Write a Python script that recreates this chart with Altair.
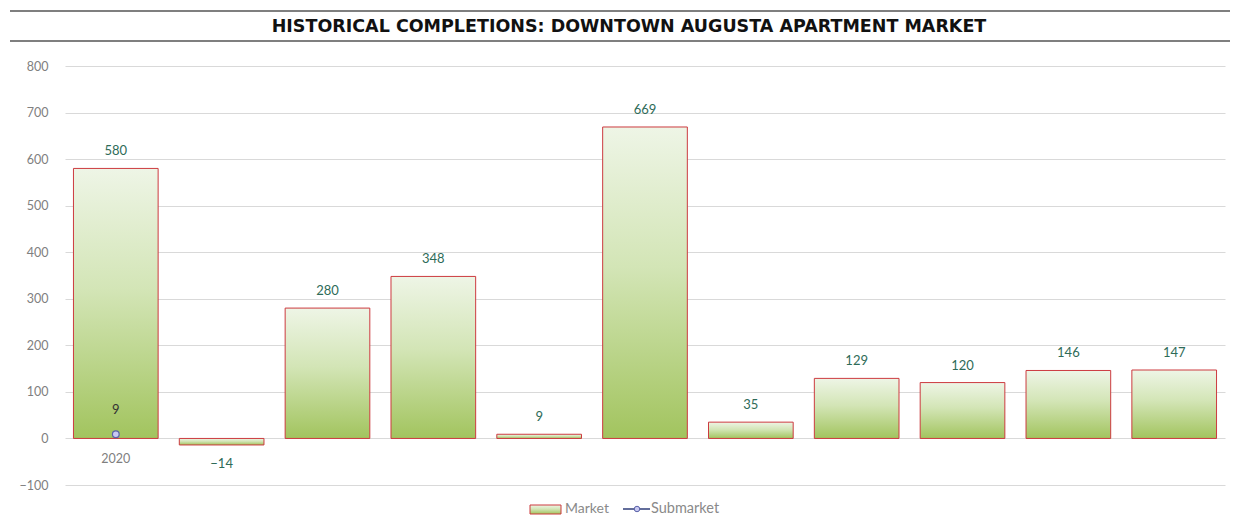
import altair as alt
import pandas as pd

# ---- data ----
categories = list(range(11))
tick_labels = ["2020", "", "", "", "", "", "", "", "", "", ""]
market = [580, -14, 280, 348, 9, 669, 35, 129, 120, 146, 147]
submarket_categories = [0]
submarket = [9]
title_text = "HISTORICAL COMPLETIONS: DOWNTOWN AUGUSTA APARTMENT MARKET"
legend_labels = ["Market", "Submarket"]

df = pd.DataFrame({"cat": categories, "label": tick_labels, "market": market})
sub = pd.DataFrame({"cat": submarket_categories, "submarket": submarket})

W, H = 1160, 419
label_expr = "[" + ",".join(f"'{t}'" for t in tick_labels) + "][datum.value]"

bar_fill = alt.Gradient(
    gradient="linear", x1=0, x2=0, y1=0, y2=1,
    stops=[
        alt.GradientStop(color="#eef5e6", offset=0),
        alt.GradientStop(color="#d3e5b6", offset=0.45),
        alt.GradientStop(color="#a2c45e", offset=1),
    ],
)

x_enc = alt.X(
    "cat:O",
    scale=alt.Scale(paddingInner=0.2, paddingOuter=0.08),
    axis=alt.Axis(
        title=None, labelExpr=label_expr, labelAngle=0, ticks=False, domain=False,
        offset=-47, labelPadding=14, labelFont="Lato", labelFontSize=12.5,
        labelColor="#7f7f7f", grid=False,
    ),
)
y_scale = alt.Scale(domain=[-100, 800], nice=False, zero=False)
y_enc = alt.Y(
    "market:Q",
    scale=y_scale,
    axis=alt.Axis(
        title=None, values=list(range(-100, 900, 100)), ticks=False, domain=False,
        labelPadding=17, labelFont="Lato", labelFontSize=12.5, labelColor="#808080",
        gridColor="#d9d9d9", gridWidth=1,
    ),
)

base = alt.Chart(df)
bars = base.mark_bar(fill=bar_fill, stroke="#cc3a3f", strokeWidth=1).encode(
    x=x_enc, y=y_enc, y2=alt.datum(0)
)
lab_pos = base.transform_filter("datum.market >= 0").mark_text(
    font="Lato", fontSize=13, color="#2e6b58", baseline="middle", dy=-17
).encode(x="cat:O", y=alt.Y("market:Q", scale=y_scale), text="market:Q")
lab_neg = base.transform_filter("datum.market < 0").mark_text(
    font="Lato", fontSize=13, color="#2e6b58", baseline="middle", dy=19
).encode(x="cat:O", y=alt.Y("market:Q", scale=y_scale), text="market:Q")

sub_base = alt.Chart(sub)
sub_line = sub_base.mark_line(color="#2f3e7a", strokeWidth=1.5).encode(
    x="cat:O", y=alt.Y("submarket:Q", scale=y_scale)
)
sub_pts = sub_base.mark_point(
    shape="circle", filled=True, size=45, fill="#c9c9f2", stroke="#5a62a8", strokeWidth=1.2, opacity=1
).encode(x="cat:O", y=alt.Y("submarket:Q", scale=y_scale))
sub_lab = sub_base.mark_text(
    font="Lato", fontSize=13, color="#333333", baseline="middle", dy=-24
).encode(x="cat:O", y=alt.Y("submarket:Q", scale=y_scale), text="submarket:Q")

one = alt.Data(values=[{}])
# title and its rules
title = alt.Chart(one).mark_text(
    text=title_text, font="DejaVu Sans", fontWeight="bold", fontSize=17.5, color="#111111",
    baseline="middle", align="center"
).encode(x=alt.value(564), y=alt.value(-39))
rule_top = alt.Chart(one).mark_rule(color="#555555", strokeWidth=1.5).encode(
    x=alt.value(-55), x2=alt.value(1165), y=alt.value(-55)
)
rule_bot = alt.Chart(one).mark_rule(color="#555555", strokeWidth=1.5).encode(
    x=alt.value(-55), x2=alt.value(1165), y=alt.value(-25)
)

# legend
leg_y = 443
leg_swatch = alt.Chart(one).mark_rect(fill=bar_fill, stroke="#cc3a3f", strokeWidth=1).encode(
    x=alt.value(465), x2=alt.value(496), y=alt.value(leg_y - 4), y2=alt.value(leg_y + 5)
)
leg_text1 = alt.Chart(one).mark_text(
    text=legend_labels[0], font="Lato", fontSize=14, color="#8a8a8a", align="left", baseline="middle"
).encode(x=alt.value(500), y=alt.value(leg_y))
leg_line = alt.Chart(one).mark_rule(color="#2f3e7a", strokeWidth=1.5).encode(
    x=alt.value(558), x2=alt.value(585), y=alt.value(leg_y)
)
leg_pt = alt.Chart(one).mark_point(
    shape="circle", filled=True, size=30, fill="#c9c9f2", stroke="#5a62a8", strokeWidth=1, opacity=1
).encode(x=alt.value(572), y=alt.value(leg_y))
leg_text2 = alt.Chart(one).mark_text(
    text=legend_labels[1], font="Lato", fontSize=14.5, color="#8a8a8a", align="left", baseline="middle"
).encode(x=alt.value(586), y=alt.value(leg_y))

chart = alt.layer(
    bars, lab_pos, lab_neg, sub_line, sub_pts, sub_lab,
    title, rule_top, rule_bot,
    leg_swatch, leg_text1, leg_line, leg_pt, leg_text2,
).resolve_scale(x="shared", y="shared").properties(
    width=W, height=H,
    autosize=alt.AutoSizeParams(type="none"),
    padding={"left": 57, "top": 58, "right": 8, "bottom": 32},
    background="white",
).configure_view(stroke=None)

chart.save("out.html", embed_options={"renderer": "svg", "actions": False})
